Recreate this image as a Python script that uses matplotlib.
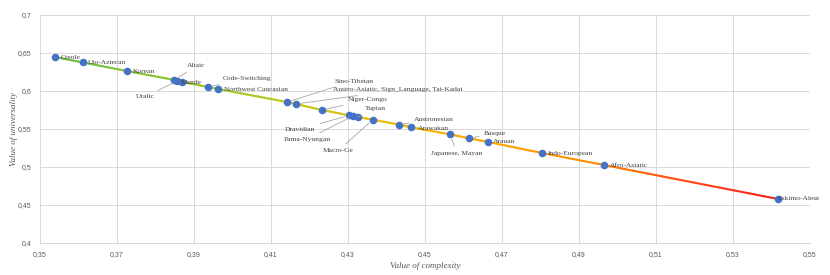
import numpy as np
import matplotlib
matplotlib.use("Agg")
import matplotlib.pyplot as plt
from matplotlib.collections import LineCollection
from matplotlib.colors import LinearSegmentedColormap
from matplotlib.ticker import FuncFormatter

families = ["Creole", "Uto-Aztecan", "Korean", "Altaic", "Uralic", "Mande",
            "Code-Switching", "Northwest Caucasian", "Sino-Tibetan",
            "Austro-Asiatic, Sign_Language, Tai-Kadai", "Niger-Congo",
            "Dravidian", "Pama-Nyungan", "Tupian", "Macro-Ge", "Austronesian",
            "Arawakan", "Japanese, Mayan", "Basque", "Arauan", "Indo-European",
            "Afro-Asiatic", "Eskimo-Aleut"]
complexity = [0.3539, 0.3612, 0.3726, 0.3849, 0.3857, 0.3870,
              0.3936, 0.3962, 0.4142, 0.4165, 0.4232,
              0.4303, 0.4313, 0.4326, 0.4364, 0.4432,
              0.4464, 0.4565, 0.4614, 0.4664, 0.4804,
              0.4965, 0.5417]
universality = [0.6447, 0.6375, 0.6263, 0.6145, 0.6134, 0.6118,
                0.6053, 0.6026, 0.5855, 0.5829, 0.5750,
                0.5680, 0.5671, 0.5658, 0.5622, 0.5559,
                0.5522, 0.5430, 0.5378, 0.5329, 0.5184,
                0.5026, 0.4579]
x_ticks = [0.35, 0.37, 0.39, 0.41, 0.43, 0.45, 0.47, 0.49, 0.51, 0.53, 0.55]
y_ticks = [0.4, 0.45, 0.5, 0.55, 0.6, 0.65, 0.7]

# label offsets in pixels (dx, dy), alignment, leader line
label_style = {
    "Creole": (6, 0, "left", False),
    "Uto-Aztecan": (5, 0, "left", False),
    "Korean": (6, 0, "left", False),
    "Altaic": (13, 14, "left", True),
    "Uralic": (-23, -16, "right", True),
    "Mande": (-2, 0, "left", False),
    "Code-Switching": (15, 8, "left", True),
    "Northwest Caucasian": (6, 0, "left", False),
    "Sino-Tibetan": (47, 21, "left", True),
    "Austro-Asiatic, Sign_Language, Tai-Kadai": (37, 14, "left", True),
    "Niger-Congo": (26, 10, "left", True),
    "Dravidian": (-34, -14, "right", True),
    "Pama-Nyungan": (-22, -23, "right", True),
    "Tupian": (7, 8, "left", True),
    "Macro-Ge": (-19, -31, "right", True),
    "Austronesian": (15, 5, "left", True),
    "Arawakan": (7, -1, "left", False),
    "Japanese, Mayan": (7, -19, "center", True),
    "Basque": (15, 5, "left", True),
    "Arauan": (5, 0, "left", False),
    "Indo-European": (6, 0, "left", False),
    "Afro-Asiatic": (6, 0, "left", False),
    "Eskimo-Aleut": (0, 0, "left", False),
}

fig = plt.figure(figsize=(8.3, 2.75), dpi=100)
ax = fig.add_axes([40/830, 1-243/275, 770/830, 228/275])

x = np.array(complexity)
y = np.array(universality)
order = np.argsort(x)
x, y = x[order], y[order]

# gradient line (sub-divided only for colouring)
cmap = LinearSegmentedColormap.from_list(
    "grad", [(0.0, "#6DBE45"), (0.27, "#A9C825"), (0.42, "#E5C410"),
             (0.6, "#FFA800"), (0.75, "#FF8C00"), (0.85, "#FF5010"),
             (1.0, "#FF1E1E")])
segs, cols = [], []
for i in range(len(x) - 1):
    n = 12
    tx = np.linspace(x[i], x[i+1], n + 1)
    ty = np.linspace(y[i], y[i+1], n + 1)
    for j in range(n):
        segs.append([(tx[j], ty[j]), (tx[j+1], ty[j+1])])
        cols.append(cmap((0.5*(tx[j]+tx[j+1]) - x[0]) / (x[-1] - x[0])))
lc = LineCollection(segs, colors=cols, linewidths=1.5, capstyle="round", zorder=2)
ax.add_collection(lc)

ax.scatter(complexity, universality, s=30, color="#4472C4", zorder=3, linewidths=0)

for name, cx, uy in zip(families, complexity, universality):
    dx, dy, ha, leader = label_style[name]
    ap = None
    if leader:
        ap = dict(arrowstyle="-", color="#A6A6A6", lw=0.6, shrinkA=1.5, shrinkB=3.5)
    ax.annotate(name, (cx, uy), xytext=(dx, dy), textcoords="offset pixels",
                ha=ha, va="center", fontsize=5.4, family="Liberation Serif",
                color="#404040", arrowprops=ap, zorder=4)

ax.set_xlim(0.35, 0.55)
ax.set_ylim(0.4, 0.7)
ax.set_xticks(x_ticks)
ax.set_yticks(y_ticks)
fmt = FuncFormatter(lambda v, p: ("%g" % round(v, 2)).replace(".", ","))
ax.xaxis.set_major_formatter(fmt)
ax.yaxis.set_major_formatter(fmt)
ax.tick_params(length=0, labelsize=5, labelcolor="#595959", pad=6)
for lab in ax.get_xticklabels() + ax.get_yticklabels():
    lab.set_family("Liberation Sans")
ax.grid(True, color="#D9D9D9", lw=0.7)
ax.set_axisbelow(True)
for s in ["top", "right", "left"]:
    ax.spines[s].set_visible(False)
ax.spines["bottom"].set_color("#D9D9D9")
ax.spines["bottom"].set_linewidth(0.8)

ax.set_xlabel("Value of complexity", fontsize=6.5, family="Liberation Serif",
              style="italic", color="#595959", labelpad=3)
ax.set_ylabel("Value of universality", fontsize=6.5, family="Liberation Serif",
              style="italic", color="#595959")
ax.yaxis.set_label_coords(-0.029, 0.5)

fig.savefig("out.png", dpi=100)
